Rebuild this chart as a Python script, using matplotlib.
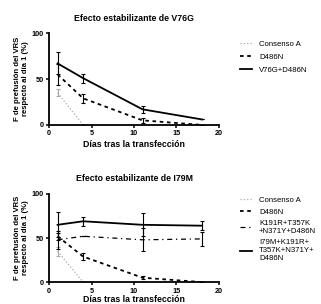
import matplotlib
matplotlib.use("Agg")
import matplotlib.pyplot as plt
from matplotlib.lines import Line2D

# data
days = [1, 4, 11, 18]
days_cons = [1, 4]

top_title = "Efecto estabilizante de V76G"
top_names = ["Consenso A", "D486N", "V76G+D486N"]
top_cons = [35, 0]
top_cons_err = [4, 0]
top_d486 = [55, 29, 5, 0]
top_d486_err = [11, 5, 3, 0]
top_v76 = [67, 51, 17, 6]
top_v76_err = [12, 5, 4, 0]

bot_title = "Efecto estabilizante de I79M"
bot_names = ["Consenso A", "D486N", "K191R+T357K\n+N371Y+D486N",
             "I79M+K191R+\nT357K+N371Y+\nD486N"]
bot_cons = [35, 0]
bot_cons_err = [5, 0]
bot_d486 = [52, 29, 5, 0]
bot_d486_err = [4, 4, 2, 0]
bot_k191 = [48, 52, 48, 49]
bot_k191_err = [10, 0, 13, 8]
bot_i79 = [65, 69, 65, 64]
bot_i79_err = [14, 5, 13, 5]

plt.rcParams['font.family'] = ['Liberation Sans', 'DejaVu Sans']
plt.rcParams['font.size'] = 5.5

fig = plt.figure(figsize=(3.21, 3.04), dpi=100)
ax1 = fig.add_axes([0.153, 0.589, 0.529, 0.302])
ax2 = fig.add_axes([0.153, 0.072, 0.529, 0.290])

styles = {
    'cons': dict(color='#aaaaaa', ls=':', lw=0.9),
    'd486': dict(color='black', ls=(0, (2, 2)), lw=1.3),
    'k191': dict(color='black', ls=(0, (4, 3, 1, 3)), lw=0.9),
    'solid': dict(color='black', ls='-', lw=1.3),
}


def style(ax, title, xpad):
    ax.set_xlim(0, 20)
    ax.set_ylim(0, 100)
    ax.set_xticks([0, 5, 10, 15, 20])
    ax.set_yticks([0, 50, 100])
    for s in ['top', 'right']:
        ax.spines[s].set_visible(False)
    for s in ['left', 'bottom']:
        ax.spines[s].set_linewidth(1.3)
    ax.tick_params(width=1.1, length=2.5, pad=1.5, labelsize=5.2)
    for lab in ax.get_xticklabels() + ax.get_yticklabels():
        lab.set_fontweight('bold')
    ax.set_title(title, fontsize=6.3, fontweight='bold', pad=9)
    ax.set_xlabel("Días tras la transfección", fontsize=6.3, fontweight='bold', labelpad=xpad)
    ax.set_ylabel("F de prefusión del VRS\nrespecto al día 1 (%)", fontsize=5.6,
                  fontweight='bold', labelpad=2)


ekw = dict(capsize=1.5, elinewidth=0.8, capthick=0.8)

# top panel
ax1.errorbar(days_cons, top_cons, yerr=top_cons_err, **styles['cons'], **ekw)
ax1.errorbar(days, top_d486, yerr=top_d486_err, **styles['d486'], **ekw)
ax1.errorbar(days, top_v76, yerr=top_v76_err, **styles['solid'], **ekw)
style(ax1, top_title, 1.5)
h1 = [Line2D([], [], **styles[k]) for k in ['cons', 'd486', 'solid']]
ax1.legend(h1, top_names, loc='upper left', bbox_to_anchor=(1.08, 1.0), frameon=False,
           fontsize=5.6, handlelength=1.6, handletextpad=0.9, labelspacing=0.75)

# bottom panel
ax2.errorbar(days_cons, bot_cons, yerr=bot_cons_err, **styles['cons'], **ekw)
ax2.errorbar(days, bot_d486, yerr=bot_d486_err, **styles['d486'], **ekw)
ax2.errorbar(days, bot_k191, yerr=bot_k191_err, **styles['k191'], **ekw)
ax2.errorbar(days, bot_i79, yerr=bot_i79_err, **styles['solid'], **ekw)
style(ax2, bot_title, 0.3)
h2 = [Line2D([], [], **styles[k]) for k in ['cons', 'd486', 'k191', 'solid']]
ax2.legend(h2, bot_names, loc='upper left', bbox_to_anchor=(1.08, 1.05), frameon=False,
           fontsize=5.6, handlelength=1.6, handletextpad=0.9, labelspacing=0.55)

fig.savefig("out.png", dpi=100)
